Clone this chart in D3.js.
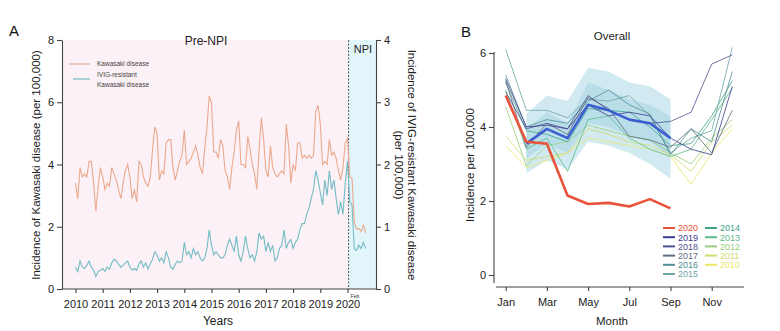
<!DOCTYPE html>
<html>
<head>
<meta charset="utf-8">
<script src="https://cdn.jsdelivr.net/npm/d3@7"></script>
<style>
    body { margin: 0; background: #fff; }
    svg { font-family: "Liberation Sans", Arial, sans-serif; }
    .axis path, .axis line { stroke: #444; stroke-width: 1.1; }
    .axis text { font-size: 11px; fill: #222; }
</style>
</head>
<body>
<svg id="chart" width="780" height="331"></svg>
<script>

// Panel A: monthly incidence, Jan 2010 - Sep 2020
var kawasaki = [
    3.4, 2.9, 3.9, 3.6, 3.7, 3.6, 4.1, 4.1, 3.4, 2.5, 3.3, 3.9,   // 2010
    3.6, 3.2, 3.4, 3.3, 3.9, 3.7, 3.5, 3.2, 2.9, 3.4, 3.8, 4.0,   // 2011
    3.6, 2.9, 3.2, 2.8, 4.1, 4.0, 3.6, 3.4, 3.3, 3.6, 4.5, 5.2,   // 2012
    5.0, 3.5, 3.8, 3.7, 4.7, 4.8, 4.8, 3.9, 3.5, 3.8, 4.1, 4.3,   // 2013
    5.1, 4.0, 4.1, 4.2, 4.4, 4.6, 4.3, 3.9, 3.7, 4.5, 5.2, 6.2,   // 2014
    6.0, 4.4, 4.4, 4.2, 4.8, 4.6, 3.8, 3.6, 3.2, 3.9, 4.4, 5.1,   // 2015
    5.4, 4.0, 4.0, 3.9, 4.9, 4.5, 4.0, 3.7, 3.2, 4.5, 5.5, 4.8,   // 2016
    3.8, 3.6, 4.6, 3.9, 3.7, 3.6, 3.7, 3.8, 3.7, 5.3, 4.6, 3.4,   // 2017
    4.0, 3.8, 4.7, 4.7, 4.2, 4.3, 4.2, 4.3, 4.2, 4.3, 5.7, 5.9,   // 2018
    5.3, 4.0, 4.1, 4.0, 4.8, 4.3, 4.4, 4.2, 3.8, 3.5, 3.9, 4.7,   // 2019
    4.85, 3.6, 3.55, 2.15, 1.92, 1.95, 1.85, 2.05, 1.8           // 2020
];
var ivigResistant = [
    0.35, 0.28, 0.45, 0.35, 0.33, 0.38, 0.45, 0.35, 0.3, 0.2, 0.28, 0.3,
    0.33, 0.28, 0.35, 0.32, 0.42, 0.48, 0.45, 0.4, 0.35, 0.38, 0.42, 0.45,
    0.35, 0.3, 0.33, 0.3, 0.4, 0.45, 0.35, 0.42, 0.32, 0.4, 0.48, 0.6,
    0.55, 0.45, 0.5, 0.42, 0.6, 0.5, 0.35, 0.32, 0.4, 0.45, 0.42, 0.45,
    0.75, 0.55, 0.6, 0.5, 0.65, 0.55, 0.6, 0.5, 0.45, 0.5, 0.65, 0.95,
    0.7, 0.55, 0.6, 0.55, 0.5, 0.5, 0.55, 0.7, 0.8, 0.7, 0.6, 0.85,
    0.55, 0.45, 0.6, 0.85, 0.65, 0.5, 0.55, 0.45, 0.6, 0.9, 0.8, 0.85,
    0.6, 0.75, 0.6, 0.7, 0.45, 0.5, 0.65, 0.7, 0.95, 0.65, 0.75, 0.8,
    0.65, 0.75, 0.8, 0.95, 1.05, 1.05, 1.2, 1.3, 1.45, 1.6, 1.9, 1.75,
    1.55, 1.35, 1.75, 1.5, 1.9, 1.6, 1.75, 1.45, 1.2, 1.4, 1.2, 1.7,
    2.05, 1.4, 1.35, 0.65, 0.62, 0.7, 0.65, 0.75, 0.65
];
var startYear = 2010;
var yearTicks = [2010, 2011, 2012, 2013, 2014, 2015, 2016, 2017, 2018, 2019, 2020];
var npiStart = 2020.04;

// Panel B: incidence per month for each year
var months = ["Jan", "Feb", "Mar", "Apr", "May", "Jun", "Jul", "Aug", "Sep", "Oct", "Nov", "Dec"];
var monthTicks = ["Jan", "Mar", "May", "Jul", "Sep", "Nov"];
var yearNames = ["2010", "2011", "2012", "2013", "2014", "2015", "2016", "2017", "2018", "2019"];
var yearColors = ["#ece86c", "#cfdc6a", "#98cf78", "#5dbb8a", "#3fa38c", "#6ea5a8", "#4f8d92", "#5e6b80", "#4d5290", "#3a3d8e"];
var yearValues = [
    [3.5, 2.9, 3.1, 3.3, 3.7, 3.6, 3.5, 3.4, 3.2, 2.45, 3.3, 3.95],
    [3.75, 3.1, 3.2, 3.3, 3.95, 3.8, 3.6, 3.5, 3.25, 2.8, 3.6, 4.05],
    [4.55, 2.95, 3.5, 3.6, 4.05, 3.9, 3.75, 3.65, 3.3, 3.0, 3.7, 4.2],
    [5.0, 3.4, 3.7, 2.8, 4.2, 4.3, 3.7, 3.4, 3.2, 3.4, 4.2, 5.05],
    [5.2, 3.9, 3.8, 3.6, 4.5, 4.45, 4.4, 4.0, 3.5, 3.55, 4.3, 5.25],
    [6.1, 4.45, 4.45, 4.25, 4.75, 4.7, 4.85, 4.3, 3.3, 3.7, 3.9, 6.15],
    [5.4, 4.0, 4.2, 4.1, 4.7, 5.0, 4.6, 4.35, 3.25, 3.95, 3.6, 5.5],
    [5.25, 3.45, 4.1, 3.8, 4.8, 4.5, 3.75, 3.65, 3.45, 3.95, 3.3, 4.45],
    [4.95, 3.95, 4.1, 3.95, 4.85, 4.45, 4.2, 4.1, 4.15, 4.4, 5.7, 5.95],
    [5.3, 4.0, 4.05, 3.95, 4.6, 4.3, 4.4, 4.3, 3.7, 3.4, 3.25, 5.1]
];
var values2020 = [4.85, 3.6, 3.55, 2.15, 1.92, 1.95, 1.85, 2.05, 1.8];
// expected level Feb-Sep with inner and outer bands
var expectedMonths = ["Feb", "Mar", "Apr", "May", "Jun", "Jul", "Aug", "Sep"];
var expectedMean = [3.55, 3.95, 3.7, 4.6, 4.45, 4.2, 4.1, 3.7];
var innerLow = [3.15, 3.55, 3.3, 4.1, 4.0, 3.75, 3.6, 3.2];
var innerHigh = [3.95, 4.4, 4.1, 5.2, 5.0, 4.75, 4.6, 4.3];
var outerLow = [2.75, 3.1, 2.85, 3.6, 3.5, 3.3, 3.0, 2.6];
var outerHigh = [4.35, 4.85, 4.7, 5.6, 5.5, 5.2, 5.1, 4.75];

var svg = d3.select("#chart");

//***************  Panel A

var a = {left: 62, right: 376, top: 40, bottom: 289};

var xA = d3.scaleLinear().domain([2010, 2020]).range([75.5, 347.5]);
var yLeft = d3.scaleLinear().domain([0, 8]).range([a.bottom, a.top]);
var yRight = d3.scaleLinear().domain([0, 4]).range([a.bottom, a.top]);

function monthYear(i) {
    return startYear + i / 12;
}

svg.append("rect")
    .attr("x", a.left).attr("y", a.top)
    .attr("width", xA(npiStart) - a.left).attr("height", a.bottom - a.top)
    .attr("fill", "#fcf1f6");
svg.append("rect")
    .attr("x", xA(npiStart)).attr("y", a.top)
    .attr("width", a.right - xA(npiStart)).attr("height", a.bottom - a.top)
    .attr("fill", "#e2f5fa");

svg.append("line")
    .attr("x1", xA(npiStart)).attr("x2", xA(npiStart))
    .attr("y1", a.top).attr("y2", a.bottom)
    .attr("stroke", "#555").attr("stroke-width", 1)
    .attr("stroke-dasharray", "2,1.5");

var lineK = d3.line()
    .x(function (d, i) { return xA(monthYear(i)); })
    .y(function (d) { return yLeft(d); });
var lineI = d3.line()
    .x(function (d, i) { return xA(monthYear(i)); })
    .y(function (d) { return yRight(d); });

svg.append("path").datum(ivigResistant)
    .attr("d", lineI)
    .attr("fill", "none").attr("stroke", "#72bcc4").attr("stroke-width", 1.1);
svg.append("path").datum(kawasaki)
    .attr("d", lineK)
    .attr("fill", "none").attr("stroke", "#eba98e").attr("stroke-width", 1.1);

svg.append("g").attr("class", "axis")
    .attr("transform", "translate(" + a.left + ",0)")
    .call(d3.axisLeft(yLeft).tickValues([0, 2, 4, 6, 8]).tickFormat(d3.format("d"))
        .tickSize(5).tickSizeOuter(0));
svg.append("g").attr("class", "axis")
    .attr("transform", "translate(" + a.right + ",0)")
    .call(d3.axisRight(yRight).tickValues([0, 1, 2, 3, 4]).tickFormat(d3.format("d"))
        .tickSize(5).tickSizeOuter(0));

var xAxisA = svg.append("g").attr("class", "axis")
    .attr("transform", "translate(0," + a.bottom + ")")
    .call(d3.axisBottom(xA).tickValues(yearTicks).tickFormat(d3.format("d")).tickSize(4).tickSizeOuter(0));
xAxisA.select(".domain").attr("d", "M" + a.left + ",0H" + a.right);
xAxisA.selectAll("text").attr("dy", "1.1em");

svg.append("text")
    .attr("x", xA(npiStart) + 2).attr("y", a.bottom + 9)
    .attr("font-size", 5).attr("fill", "#333")
    .text("Feb");

svg.append("text")
    .attr("x", 206).attr("y", 45)
    .attr("text-anchor", "middle").attr("font-size", 12).attr("fill", "#222")
    .text("Pre-NPI");
svg.append("text")
    .attr("x", 363).attr("y", 53)
    .attr("text-anchor", "middle").attr("font-size", 11).attr("fill", "#222")
    .text("NPI");

svg.append("text")
    .attr("x", 218).attr("y", 325)
    .attr("text-anchor", "middle").attr("font-size", 12).attr("fill", "#222")
    .text("Years");

svg.append("text")
    .attr("transform", "translate(40,165) rotate(-90)")
    .attr("text-anchor", "middle").attr("font-size", 11.5).attr("fill", "#222")
    .text("Incidence of Kawasaki disease (per 100,000)");

var rightTitle = svg.append("text")
    .attr("transform", "translate(405,165) rotate(90)")
    .attr("text-anchor", "middle").attr("font-size", 11.5).attr("fill", "#222");
rightTitle.append("tspan").attr("x", 0).attr("dy", "-0.3em")
    .text("Incidence of IVIG-resistant  Kawasaki disease");
rightTitle.append("tspan").attr("x", 0).attr("dy", "1.2em")
    .text("(per 100,000)");

svg.append("text")
    .attr("x", 9).attr("y", 36)
    .attr("font-size", 15).attr("fill", "#111")
    .text("A");

// legend
var legA = svg.append("g").attr("font-size", 6.5).attr("fill", "#444");
legA.append("line").attr("x1", 69).attr("x2", 90).attr("y1", 64).attr("y2", 64)
    .attr("stroke", "#eba98e").attr("stroke-width", 1.2);
legA.append("text").attr("x", 97).attr("y", 66).text("Kawasaki disease");
legA.append("line").attr("x1", 73).attr("x2", 90).attr("y1", 79).attr("y2", 79)
    .attr("stroke", "#72bcc4").attr("stroke-width", 1.2);
legA.append("text").attr("x", 97).attr("y", 77).text("IVIG-resistant");
legA.append("text").attr("x", 97).attr("y", 87).text("Kawasaki disease");

//***************  Panel B

var b = {left: 494, right: 744, top: 53, bottom: 287};

var xB = d3.scalePoint().domain(months).range([505.7, 732.3]);
var yB = d3.scaleLinear().domain([0, 6]).range([275, 53]);

var bandArea = function (low, high) {
    return d3.area()
        .x(function (d, i) { return xB(expectedMonths[i]); })
        .y0(function (d, i) { return yB(low[i]); })
        .y1(function (d, i) { return yB(high[i]); });
};

svg.append("path").datum(expectedMonths)
    .attr("d", bandArea(outerLow, outerHigh))
    .attr("fill", "#c2e3ee").attr("opacity", 0.75);
svg.append("path").datum(expectedMonths)
    .attr("d", bandArea(innerLow, innerHigh))
    .attr("fill", "#9dcfe1").attr("opacity", 0.45);

var lineB = d3.line()
    .x(function (d, i) { return xB(months[i]); })
    .y(function (d) { return yB(d); });

svg.append("g").selectAll("path")
    .data(yearValues)
    .enter().append("path")
    .attr("d", lineB)
    .attr("fill", "none")
    .attr("stroke", function (d, i) { return yearColors[i]; })
    .attr("stroke-width", 1)
    .attr("opacity", 0.8);

svg.append("path").datum(expectedMean)
    .attr("d", d3.line()
        .x(function (d, i) { return xB(expectedMonths[i]); })
        .y(function (d) { return yB(d); }))
    .attr("fill", "none").attr("stroke", "#3b5fcf").attr("stroke-width", 2.6)
    .attr("stroke-linejoin", "round");

svg.append("path").datum(values2020)
    .attr("d", lineB)
    .attr("fill", "none").attr("stroke", "#e8533b").attr("stroke-width", 2.6)
    .attr("stroke-linejoin", "round");

svg.append("g").attr("class", "axis")
    .attr("transform", "translate(" + b.left + ",0)")
    .call(d3.axisLeft(yB).tickValues([0, 2, 4, 6]).tickFormat(d3.format("d"))
        .tickSize(5).tickSizeOuter(0))
    .select(".domain").attr("d", "M0,52V283");

var xAxisB = svg.append("g").attr("class", "axis")
    .attr("transform", "translate(0," + b.bottom + ")")
    .call(d3.axisBottom(xB).tickValues(monthTicks).tickSize(4).tickSizeOuter(0));
xAxisB.select(".domain").attr("d", "M496,0H" + b.right);
xAxisB.selectAll("text").attr("dy", "1.1em");

svg.append("text")
    .attr("x", 612).attr("y", 40)
    .attr("text-anchor", "middle").attr("font-size", 11.5).attr("fill", "#222")
    .text("Overall");
svg.append("text")
    .attr("x", 612).attr("y", 325)
    .attr("text-anchor", "middle").attr("font-size", 11.5).attr("fill", "#222")
    .text("Month");
svg.append("text")
    .attr("transform", "translate(474,165) rotate(-90)")
    .attr("text-anchor", "middle").attr("font-size", 11.5).attr("fill", "#222")
    .text("Incidence per 100,000");
svg.append("text")
    .attr("x", 461).attr("y", 37)
    .attr("font-size", 15).attr("fill", "#111")
    .text("B");

// legend, two columns: 2020..2015 then 2014..2010
var legendItems = [{name: "2020", color: "#e8533b"}];
for (var k = yearNames.length - 1; k >= 0; k--)
    legendItems.push({name: yearNames[k], color: yearColors[k]});

var legB = svg.append("g").selectAll("g")
    .data(legendItems)
    .enter().append("g")
    .attr("transform", function (d, i) {
        var col = i < 6 ? 0 : 1, row = i < 6 ? i : i - 6;
        return "translate(" + (663 + col * 42) + "," + (228 + row * 9.2) + ")";
    });
legB.append("line")
    .attr("x1", 0).attr("x2", 12)
    .attr("stroke", function (d) { return d.color; })
    .attr("stroke-width", 2);
legB.append("text")
    .attr("x", 15).attr("y", 3.3)
    .attr("font-size", 9)
    .attr("fill", function (d) { return d.color; })
    .text(function (d) { return d.name; });

</script>
</body>
</html>
